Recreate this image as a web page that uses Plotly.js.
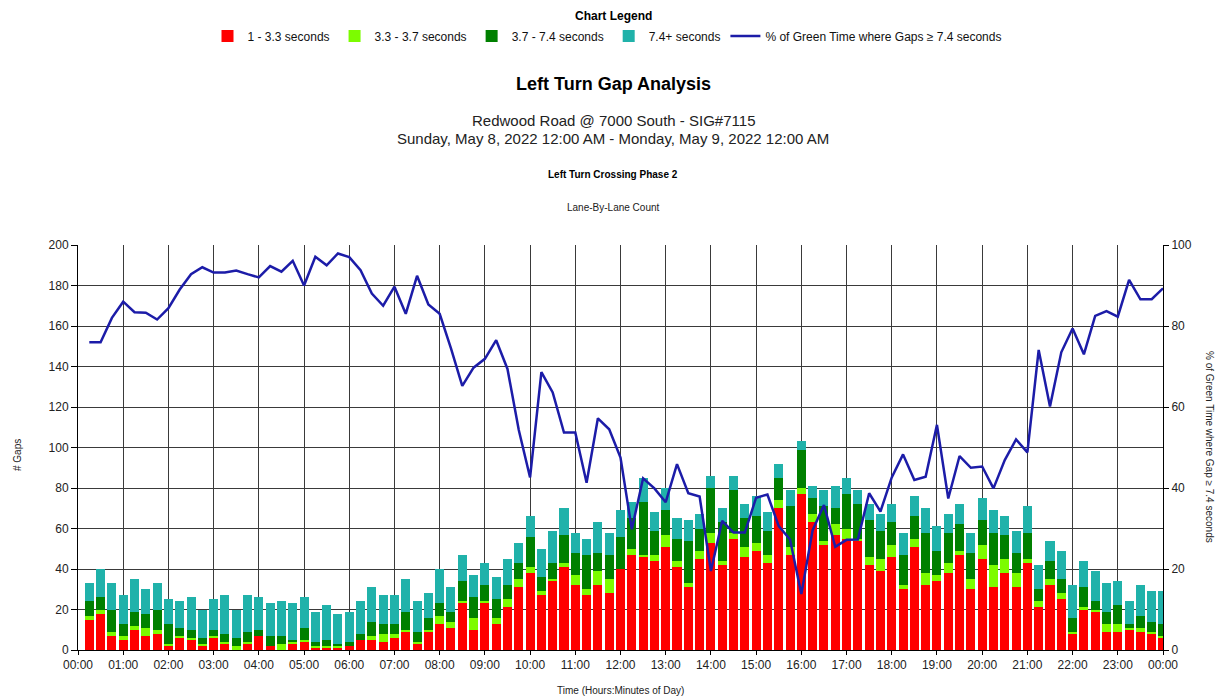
<!DOCTYPE html>
<html>
<head>
<meta charset="utf-8">
<script src="https://cdn.plot.ly/plotly-3.0.1.min.js"></script>
<style>html,body{margin:0;padding:0;background:#fff;}#chart{width:1219px;height:698px;}</style>
</head>
<body>
<div id="chart"></div>
<script>
// Interval end times are every 15 minutes (00:15 ... 24:00); values below in that order
const hourLabels = ["00:00","01:00","02:00","03:00","04:00","05:00","06:00","07:00","08:00","09:00","10:00","11:00","12:00","13:00","14:00","15:00","16:00","17:00","18:00","19:00","20:00","21:00","22:00","23:00","00:00"];

const gaps1to33 = [15,18,7,5,10,7,8,2,6,5,2,6,3,0,3,7,
  2,0,3,4,1,1,1,2,5,5,4,6,9,3,9,13,
  11,23,10,23,13,21,31,38,27,34,41,32,27,32,28,40,
  47,46,44,51,41,31,45,53,42,55,46,49,43,70,47,77,
  63,52,57,55,54,42,39,46,30,51,32,34,38,47,30,45,
  31,38,31,43,21,32,25,8,20,19,9,9,10,9,8,6];

const gaps33to37 = [2,2,2,2,2,4,2,1,1,1,1,1,1,2,1,0,
  0,3,1,1,1,1,1,0,0,2,4,2,1,1,1,4,
  3,1,6,1,3,4,4,3,2,1,2,5,3,7,7,0,
  3,1,3,6,3,2,4,5,2,3,5,4,4,4,4,3,
  4,2,5,5,1,4,6,6,2,4,6,3,5,2,5,7,
  11,7,7,2,3,3,3,1,1,1,4,4,1,2,1,1];

const gaps37to74 = [7,6,11,6,7,7,10,10,4,4,3,3,4,4,5,3,
  5,4,1,6,2,3,1,2,3,7,5,5,9,5,6,6,
  5,10,10,8,9,7,8,15,7,8,14,11,17,9,12,16,
  15,26,12,12,11,21,11,22,19,21,14,13,12,11,20,19,
  8,17,8,17,17,18,14,11,15,11,20,12,15,13,13,12,
  16,12,10,13,6,9,7,7,10,4,6,9,2,6,5,6];

const gaps74plus = [9,14,13,14,16,12,13,12,13,16,14,15,19,14,18,16,
  16,17,18,15,15,17,15,15,16,17,14,14,16,15,12,17,
  12,13,11,11,11,13,10,10,14,16,13,10,8,15,11,13,
  8,12,9,11,10,10,7,6,7,7,7,10,9,7,8,4,
  6,8,11,8,7,8,8,9,11,10,12,12,9,10,10,11,
  11,9,11,13,12,10,14,16,13,15,14,12,11,15,15,16];

const pctGreen = [76,76,82,86,83.4,83.3,81.6,84.4,89,92.8,94.5,93.2,93.2,93.7,92.8,92,
  94.8,93.4,96.1,90,97.1,95,97.9,97,93.8,88,85,89.7,83,92.4,85.3,83,
  74.5,65.2,69.7,71.9,76.5,69.4,54.3,42.6,68.6,63.6,53.7,53.7,41.3,57.2,54.5,47.5,
  29.8,42.4,39.9,36.5,45.9,38.7,37.9,19.5,31.9,29,29,37.6,38.4,30.6,27.3,13.8,
  29.6,35.8,25.5,27.2,27.3,38.7,34.2,42.6,48.3,42,42.8,55.6,37.4,47.9,45,45.3,
  39.9,46.9,52,48.8,74.1,60.1,73.5,79.4,73,82.5,83.7,82.3,91.4,86.6,86.6,89.3];

// x position (hours) of each 15-minute interval end
const xHours = gaps1to33.map((_, i) => (i + 1) / 4);
const hourTicks = hourLabels.map((_, i) => i);

const FONT = 'Liberation Sans, Arial, sans-serif';

function barTrace(name, y, color) {
  return {type: 'bar', name: name, x: xHours, y: y, marker: {color: color, line: {width: 0}}, hoverinfo: 'skip'};
}

const traces = [
  barTrace('1 - 3.3 seconds', gaps1to33, '#ff0000'),
  barTrace('3.3 - 3.7 seconds', gaps33to37, '#7cfc00'),
  barTrace('3.7 - 7.4 seconds', gaps37to74, '#008000'),
  barTrace('7.4+ seconds', gaps74plus, '#20b2aa'),
  {type: 'scatter', mode: 'lines', name: '% of Green Time where Gaps \u2265 7.4 seconds', x: xHours, y: pctGreen,
   yaxis: 'y2', line: {color: '#1c1ca8', width: 2.5}, hoverinfo: 'skip'}
];

function py(p) { return (650 - p) / 405; }
function px(p) { return (p - 78) / 1085; }

const CX = px(613);
const annotations = [
  {text: '<b>Chart Legend</b>', x: CX, y: py(16), xref: 'paper', yref: 'paper', showarrow: false, font: {size: 12, color: '#000', family: FONT}, xanchor: 'center', yanchor: 'middle'},
  {text: '<b>Left Turn Gap Analysis</b>', x: CX, y: py(84), xref: 'paper', yref: 'paper', showarrow: false, font: {size: 18, color: '#000', family: FONT}, xanchor: 'center', yanchor: 'middle'},
  {text: 'Redwood Road @ 7000 South - SIG#7115', x: CX, y: py(121), xref: 'paper', yref: 'paper', showarrow: false, font: {size: 15, color: '#222', family: FONT}, xanchor: 'center', yanchor: 'middle'},
  {text: 'Sunday, May 8, 2022 12:00 AM - Monday, May 9, 2022 12:00 AM', x: CX, y: py(138), xref: 'paper', yref: 'paper', showarrow: false, font: {size: 15, color: '#222', family: FONT}, xanchor: 'center', yanchor: 'middle'},
  {text: '<b>Left Turn Crossing Phase 2</b>', x: CX, y: py(175), xref: 'paper', yref: 'paper', showarrow: false, font: {size: 10, color: '#000', family: FONT}, xanchor: 'center', yanchor: 'middle'},
  {text: 'Lane-By-Lane Count', x: CX, y: py(208), xref: 'paper', yref: 'paper', showarrow: false, font: {size: 10, color: '#222', family: FONT}, xanchor: 'center', yanchor: 'middle'},
  {text: 'Time (Hours:Minutes of Day)', x: px(620), y: py(690), xref: 'paper', yref: 'paper', showarrow: false, font: {size: 10, color: '#222', family: FONT}, xanchor: 'center', yanchor: 'middle'},
  {text: '# Gaps', x: px(17), y: py(455), xref: 'paper', yref: 'paper', showarrow: false, textangle: -90, font: {size: 10, color: '#222', family: FONT}, xanchor: 'center', yanchor: 'middle'},
  {text: '% of Green Time where Gap \u2265 7.4 seconds', x: px(1210), y: py(447), xref: 'paper', yref: 'paper', showarrow: false, textangle: 90, font: {size: 10, color: '#222', family: FONT}, xanchor: 'center', yanchor: 'middle'}
];

const layout = {
  width: 1219, height: 698,
  margin: {l: 78, r: 56, t: 245, b: 48, pad: 0},
  paper_bgcolor: '#fff', plot_bgcolor: '#fff',
  font: {family: FONT, size: 12, color: '#222'},
  barmode: 'stack', bargap: 0.2,
  showlegend: true,
  legend: {orientation: 'h', x: px(607), xanchor: 'center', y: py(36), yanchor: 'middle', traceorder: 'normal',
           font: {size: 12, color: '#111', family: FONT}, itemwidth: 30, bgcolor: 'rgba(0,0,0,0)'},
  xaxis: {range: [0, 24], tickmode: 'array', tickvals: hourTicks, ticktext: hourLabels,
          showgrid: true, gridcolor: '#3a3a3a', gridwidth: 1, zeroline: false,
          showline: true, linecolor: '#000', linewidth: 1,
          ticks: 'outside', ticklen: 4, tickcolor: '#000', tickfont: {size: 12, color: '#222'}, fixedrange: true},
  yaxis: {range: [0, 200], dtick: 20, tick0: 0, showgrid: true, gridcolor: '#3a3a3a', gridwidth: 1, zeroline: false,
          showline: true, linecolor: '#000', linewidth: 1,
          ticks: 'outside', ticklen: 6, tickcolor: '#000', tickfont: {size: 12, color: '#222'}, fixedrange: true},
  yaxis2: {range: [0, 100], dtick: 20, tick0: 0, overlaying: 'y', side: 'right', showgrid: false, zeroline: false,
           showline: true, linecolor: '#000', linewidth: 1,
           ticks: 'outside', ticklen: 5, tickcolor: '#000', tickfont: {size: 12, color: '#222'}, fixedrange: true},
  annotations: annotations
};

Plotly.newPlot('chart', traces, layout, {displayModeBar: false, staticPlot: true});
</script>
</body>
</html>
